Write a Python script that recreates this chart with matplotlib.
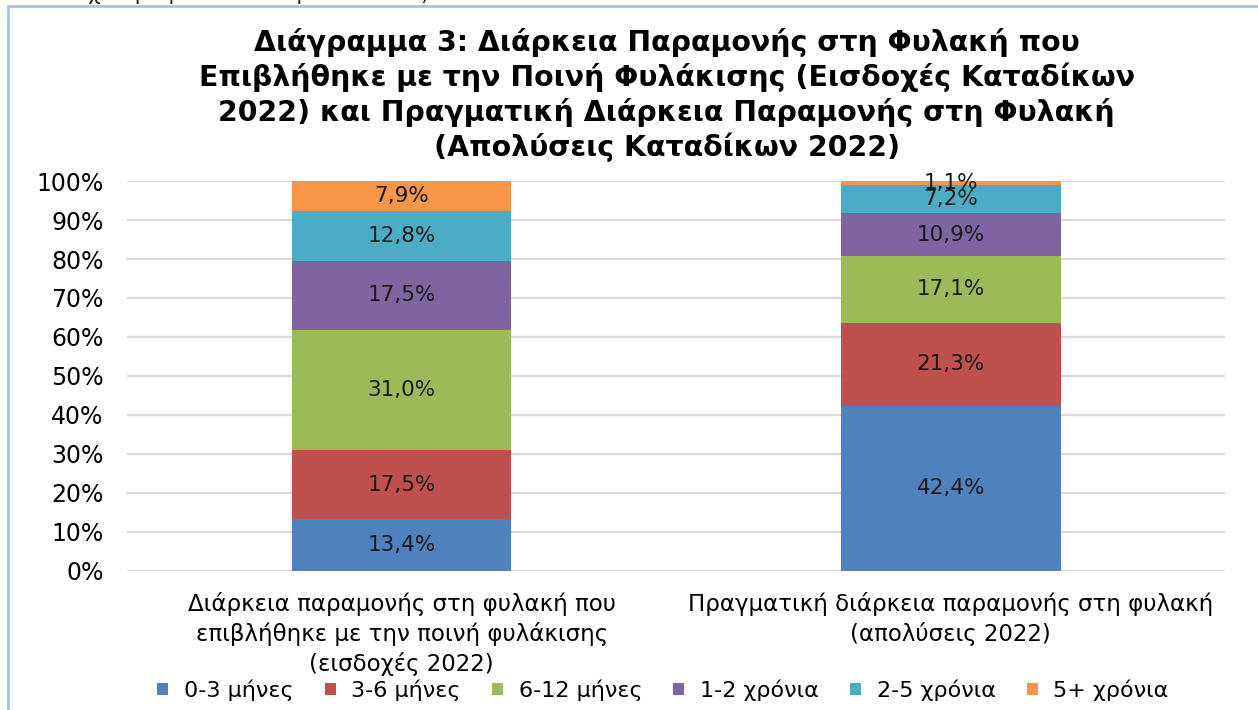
import matplotlib.pyplot as plt
from matplotlib.patches import Rectangle
from matplotlib.ticker import PercentFormatter

# data
categories = ['Διάρκεια παραμονής στη φυλακή που\nεπιβλήθηκε με την ποινή φυλάκισης\n(εισδοχές 2022)',
              'Πραγματική διάρκεια παραμονής στη φυλακή\n(απολύσεις 2022)']
series = ['0-3 μήνες', '3-6 μήνες', '6-12 μήνες', '1-2 χρόνια', '2-5 χρόνια', '5+ χρόνια']
values = {
    '0-3 μήνες': [13.4, 42.4],
    '3-6 μήνες': [17.5, 21.3],
    '6-12 μήνες': [31.0, 17.1],
    '1-2 χρόνια': [17.5, 10.9],
    '2-5 χρόνια': [12.8, 7.2],
    '5+ χρόνια': [7.9, 1.1],
}
colors = ['#4F81BD', '#C0504D', '#9BBB59', '#8064A2', '#4BACC6', '#F79646']

title = ('Διάγραμμα 3: Διάρκεια Παραμονής στη Φυλακή που\n'
         'Επιβλήθηκε με την Ποινή Φυλάκισης (Εισδοχές Καταδίκων\n'
         '2022) και Πραγματική Διάρκεια Παραμονής στη Φυλακή\n'
         '(Απολύσεις Καταδίκων 2022)')

fig = plt.figure(figsize=(12.58, 7.10), dpi=100)
ax = fig.add_axes([0.101, 0.196, 0.873, 0.549])

# border of the chart frame and the clipped document line above it
fig.patches.append(Rectangle((8 / 1258, -0.1), 1.2, 1 - 6 / 710 + 0.1, transform=fig.transFigure,
                             fill=False, edgecolor='#A7C2E8', lw=2))
fig.text(-0.004, 1.009, 'αντίστοιχο αριθμό των αποφυλακίσεων).', fontsize=15.5, va='center',
         ha='left', color='#222222')

x = range(len(categories))
bottom = [0, 0]
for name, c in zip(series, colors):
    vals = values[name]
    ax.bar(x, vals, 0.4, bottom=bottom, color=c, label=name, zorder=2)
    for i, v in enumerate(vals):
        txt = ('%.1f%%' % v).replace('.', ',')
        ax.text(i, bottom[i] + v / 2, txt, ha='center', va='center', fontsize=15.5,
                color='#1a1a1a', zorder=3)
    bottom = [b + v for b, v in zip(bottom, vals)]

ax.set_xlim(-0.5, 1.5)
ax.set_ylim(0, 100)
ax.set_yticks(range(0, 101, 10))
ax.yaxis.set_major_formatter(PercentFormatter(decimals=0))
ax.grid(axis='y', color='#D9D9D9', lw=1.6, zorder=0)
for s in ax.spines.values():
    s.set_visible(False)
ax.tick_params(axis='y', length=0, labelsize=17, pad=17)
ax.tick_params(axis='x', length=0, pad=15)
ax.set_xticks(list(x))
ax.set_xticklabels(categories, fontsize=16.5, linespacing=1.32)

fig.text(0.53, 0.866, title, ha='center', va='center', fontsize=20.4, fontweight='bold',
         linespacing=1.25)

fig.legend(loc='center', bbox_to_anchor=(0.527, 0.028), ncol=6, frameon=False, fontsize=16,
           handlelength=0.5, handleheight=0.5, handletextpad=0.7, columnspacing=1.4)

fig.savefig('out.png', dpi=100)
